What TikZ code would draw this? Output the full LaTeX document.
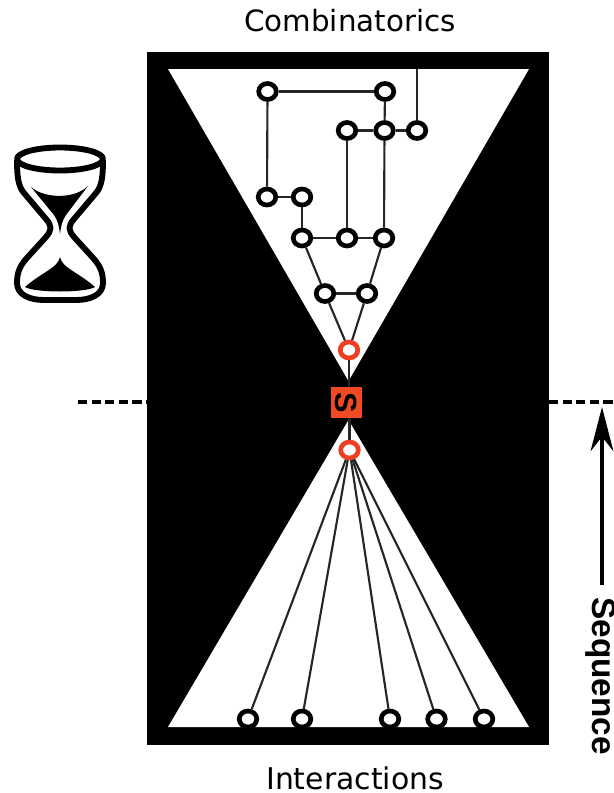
\documentclass[tikz,border=0pt]{standalone}
\usepackage{fontspec}
\setmainfont{DejaVu Sans}
\setsansfont{Liberation Sans}
\usetikzlibrary{shapes.geometric,arrows.meta}

\begin{document}
\begin{tikzpicture}[x=0.75pt, y=-0.75pt]
\definecolor{RingRed}{HTML}{EE3E24}
\definecolor{BoxRed}{HTML}{EF4A23}
\tikzset{
  vtx/.style={ellipse, draw=black, fill=white, line width=3.5pt, inner sep=0pt, minimum width=13.2pt, minimum height=12pt},
  redvtx/.style={vtx, draw=RingRed},
  edge/.style={black!85, line width=1.6pt},
  seqline/.style={line width=3pt, dash pattern=on 6.9pt off 3.3pt}
}
\useasboundingbox (0,0) rectangle (614,793);

% frame and the two cones
\fill[black] (147,52) rectangle (549,745);
\fill[white] (168,69) -- (529,69) -- (348.5,381) -- cycle;
\fill[white] (168,727) -- (529,727) -- (348.5,420) -- cycle;

% combinatorics nodes
\foreach \n/\x/\y in {a/267.5/91.5, b/385/91.5, c/347/130.5, d/384.5/130.5, e/417/130.5,
    f/267/197, g/302/197, h/302/238, i/347/238, j/384/238, k/325/293.5, l/367/293.5}
    \node[vtx] (\n) at (\x,\y) {};
\node[redvtx] (top) at (349,350) {};
\node[fill=BoxRed, minimum size=23.5pt, inner sep=0pt, rotate=-90, font=\sffamily\bfseries\fontsize{23}{23}\selectfont] (S) at (346.5,402.5) {S};
\node[redvtx] (bot) at (349.5,450) {};

% interaction nodes
\foreach \n/\x in {p/248, q/302, r/390, s/436.5, t/484}
    \node[vtx] (\n) at (\x,719) {};

% edges
\coordinate (roof) at (417,69);
\draw[edge] (e) -- (roof);
\draw[edge] (a) -- (b);
\draw[edge] (a) -- (f);
\draw[edge] (f) -- (g);
\draw[edge] (g) -- (h);
\draw[edge] (b) -- (d);
\draw[edge] (c) -- (d);
\draw[edge] (d) -- (e);
\draw[edge] (c) -- (i);
\draw[edge] (d) -- (j);
\draw[edge] (h) -- (i);
\draw[edge] (i) -- (j);
\draw[edge] (h) -- (k);
\draw[edge] (j) -- (l);
\draw[edge] (k) -- (l);
\draw[edge] (k) -- (top);
\draw[edge] (l) -- (top);
\draw[edge] (top) -- (top |- S.west);
\draw[edge] (bot) -- (bot |- S.east);
\foreach \n in {p,q,r,s,t}
    \draw[edge] (bot) -- (\n);

% dashed level
\coordinate (dl) at (78,402);
\coordinate (dm) at (147,402);
\coordinate (dn) at (549,402);
\coordinate (dr) at (614,402);
\draw[seqline] (dl) -- (dm);
\draw[seqline] (dn) -- (dr);

% labels
\node[inner sep=0pt, font=\fontsize{22}{22}\selectfont] (comb) at (350,21) {Combinatorics};
\node[inner sep=0pt, font=\fontsize{22.4}{22.4}\selectfont] (inter) at (355,778.5) {Interactions};
\node[rotate=-90, inner sep=0pt, font=\sffamily\bfseries\fontsize{25}{25}\selectfont] (seq) at (601,676) {Sequence};
\coordinate (tip) at (602,407);
\coordinate (tail) at (602,585);
\draw[-{Stealth[length=33pt,width=17pt]}, line width=3.6pt] (tail) -- (tip);

% hourglass
\begin{scope}[line width=4.4pt, line join=round]
\draw (60,159) ellipse (43 and 11.5);
\draw (17,160) .. controls (17,176) and (18,186) .. (24,193)
    -- (46,219) .. controls (52,226) and (52,230) .. (46,237)
    -- (26,259) .. controls (19,267) and (17,274) .. (17,283)
    .. controls (17,295) and (30,300) .. (44,300) -- (76,300)
    .. controls (90,300) and (103,295) .. (103,283)
    .. controls (103,274) and (101,267) .. (94,259)
    -- (74,237) .. controls (68,230) and (68,226) .. (74,219)
    -- (96,193) .. controls (102,186) and (103,176) .. (103,160);
\fill (31,187) .. controls (45,199) and (75,199) .. (88,186)
    -- (66,215) .. controls (62,221) and (61,226) .. (60,234)
    .. controls (59,226) and (58,221) .. (54,215) -- cycle;
\fill (60,257) .. controls (62,268) and (78,272) .. (95,287)
    .. controls (85,293) and (35,293) .. (25,287)
    .. controls (42,272) and (58,268) .. (60,257) -- cycle;
\end{scope}
\end{tikzpicture}
\end{document}
